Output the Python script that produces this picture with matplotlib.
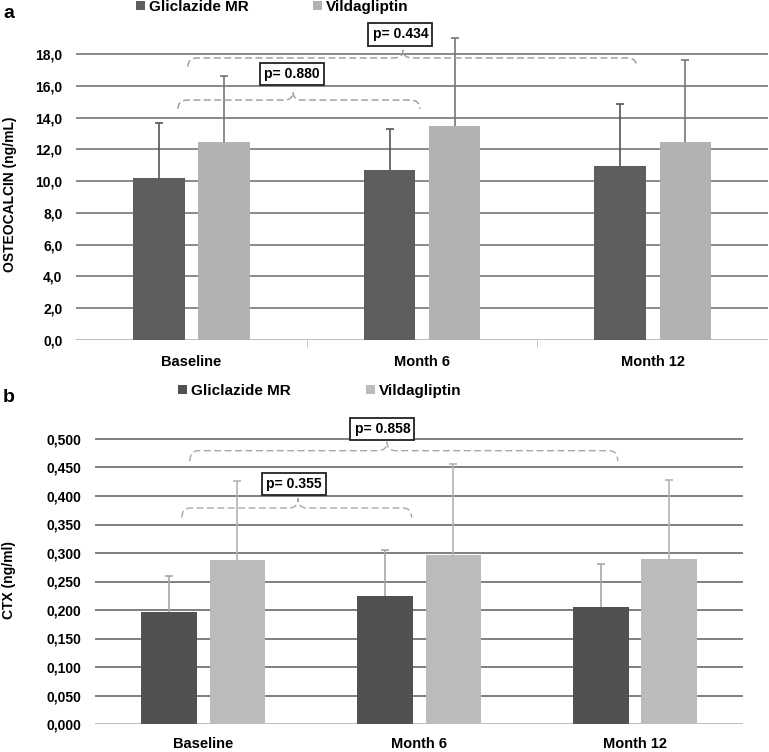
import numpy as np
import matplotlib.pyplot as plt
from matplotlib.path import Path
from matplotlib.patches import PathPatch

plt.rcParams['font.family'] = ['Liberation Sans', 'DejaVu Sans']
plt.rcParams['font.weight'] = 'bold'

groups = ["Baseline", "Month 6", "Month 12"]
series = ["Gliclazide MR", "Vildagliptin"]

# panel a: osteocalcin (ng/mL), mean and SD
oc_glic = [10.19, 10.73, 10.92]
oc_glic_sd = [3.48, 2.58, 3.96]
oc_vild = [12.48, 13.46, 12.48]
oc_vild_sd = [4.14, 5.54, 5.12]
oc_ticks = [0, 2, 4, 6, 8, 10, 12, 14, 16, 18]

# panel b: CTX (ng/ml)
ctx_glic = [0.196, 0.225, 0.205]
ctx_glic_sd = [0.063, 0.080, 0.075]
ctx_vild = [0.288, 0.297, 0.289]
ctx_vild_sd = [0.139, 0.160, 0.139]
ctx_ticks = [0.0, 0.05, 0.10, 0.15, 0.20, 0.25, 0.30, 0.35, 0.40, 0.45, 0.50]

p_a = ["p= 0.880", "p= 0.434"]
p_b = ["p= 0.355", "p= 0.858"]

W, H = 769, 752
fig = plt.figure(figsize=(W / 100, H / 100), dpi=100)


def px_axes(l, t, r, b):
    return fig.add_axes([l / W, 1 - b / H, (r - l) / W, (b - t) / H])


def brace(ax, x0, x1, xp, y, yend, ypk, color):
    r = 0.04
    verts = [(x0, yend), (x0, y), (x0 + r, y),
             (xp - r, y), (xp, y), (xp, ypk),
             (xp, y), (xp + r, y),
             (x1 - r, y), (x1, y), (x1, yend)]
    codes = [Path.MOVETO, Path.CURVE3, Path.CURVE3,
             Path.LINETO, Path.CURVE3, Path.CURVE3,
             Path.CURVE3, Path.CURVE3,
             Path.LINETO, Path.CURVE3, Path.CURVE3]
    ax.add_patch(PathPatch(Path(verts, codes), fill=False, ec=color, lw=1.0,
                           ls=(0, (5, 2.5)), clip_on=False, zorder=4))


def pbox(ax, x, y, txt, size):
    ax.text(x, y, txt, ha='center', va='center', fontsize=size, fontweight='bold',
            bbox=dict(boxstyle='square,pad=0.3', fc='white', ec='#222222', lw=1.3),
            zorder=5)


def panel(ax, glic, glic_sd, vild, vild_sd, ticks, ylim, fmt, bw, off, cols, ecols, gridc, xpad):
    x = np.arange(len(groups))
    ax.bar(x - off, glic, bw, color=cols[0], zorder=3, label=series[0])
    ax.bar(x + off, vild, bw, color=cols[1], zorder=3, label=series[1])
    ax.errorbar(x - off, glic, yerr=glic_sd, fmt='none', ecolor=ecols[0],
                elinewidth=1.2, capsize=3, capthick=1.2, zorder=2)
    ax.errorbar(x + off, vild, yerr=vild_sd, fmt='none', ecolor=ecols[1],
                elinewidth=1.2, capsize=3, capthick=1.2, zorder=2)
    ax.set_xlim(-0.5, 2.5)
    ax.set_ylim(*ylim)
    ax.set_yticks(ticks)
    ax.set_yticklabels([fmt.format(t).replace('.', ',') for t in ticks],
                       fontsize=10, fontweight='bold')
    for t in ticks[1:]:
        ax.axhline(t, color=gridc, lw=1.4, zorder=0)
    ax.axhline(0, color='#bdbdbd', lw=1.4, zorder=1)
    for s in ax.spines.values():
        s.set_visible(False)
    ax.set_xticks(x)
    ax.set_xticklabels(groups, fontsize=10.5, fontweight='bold')
    ax.tick_params(axis='y', length=0, pad=10)
    ax.tick_params(axis='x', length=0, pad=xpad)
    return ax


# ---- panel a ----
axa = px_axes(76.3, 20, 768, 340)
panel(axa, oc_glic, oc_glic_sd, oc_vild, oc_vild_sd, oc_ticks, (0, 320 / 15.89),
      '{:.1f}', 0.223, 0.141, ('#5e5e5e', '#b2b2b2'), ('#555555', '#777777'), '#8a8a8a', 11)
axa.set_xticks([0.5, 1.5], minor=True)
axa.tick_params(axis='x', which='minor', length=5, color='#bdbdbd', direction='out')
brace(axa, -0.059, 0.99, 0.44, 15.1, 14.54, 15.6, '#9a9a9a')
brace(axa, -0.016, 1.93, 0.917, 17.75, 17.2, 18.25, '#9a9a9a')
pbox(axa, 0.435, 16.74, p_a[0], 10)
pbox(axa, 0.906, 19.23, p_a[1], 10)
axa.legend(loc='upper left', bbox_to_anchor=(136 / W, 1 - 0 / H), bbox_transform=fig.transFigure,
           ncol=2, frameon=False, handlelength=0.6, handleheight=0.6,
           handletextpad=0.25, columnspacing=4.2, borderpad=0, borderaxespad=0,
           prop={'weight': 'bold', 'size': 11})
fig.text(10 / W, 1 - 194 / H, "OSTEOCALCIN (ng/mL)", rotation=90, ha='center', va='center',
         fontsize=10, fontweight='bold')
fig.text(9 / W, 1 - 14 / H, "a", ha='center', va='center', fontsize=14, fontweight='bold')

# ---- panel b ----
axb = px_axes(95.3, 405, 743, 724)
panel(axb, ctx_glic, ctx_glic_sd, ctx_vild, ctx_vild_sd, ctx_ticks, (0, 319 / 570),
      '{:.3f}', 0.257, 0.158, ('#515151', '#bcbcbc'), ('#a8a8a8', '#b4b4b4'), '#7f7f7f', 9)
brace(axb, -0.099, 0.965, 0.439, 0.379, 0.362, 0.396, '#a8a8a8')
brace(axb, -0.062, 1.92, 0.851, 0.4795, 0.461, 0.495, '#a8a8a8')
pbox(axb, 0.42, 0.421, p_b[0], 10)
pbox(axb, 0.83, 0.518, p_b[1], 10)
axb.legend(loc='upper left', bbox_to_anchor=(178 / W, 1 - 384 / H), bbox_transform=fig.transFigure,
           ncol=2, frameon=False, handlelength=0.6, handleheight=0.6,
           handletextpad=0.25, columnspacing=4.9, borderpad=0, borderaxespad=0,
           prop={'weight': 'bold', 'size': 11})
fig.text(9 / W, 1 - 580 / H, "CTX (ng/ml)", rotation=90, ha='center', va='center',
         fontsize=10, fontweight='bold')
fig.text(9 / W, 1 - 398 / H, "b", ha='center', va='center', fontsize=14, fontweight='bold')

fig.savefig('out.png', dpi=100)
